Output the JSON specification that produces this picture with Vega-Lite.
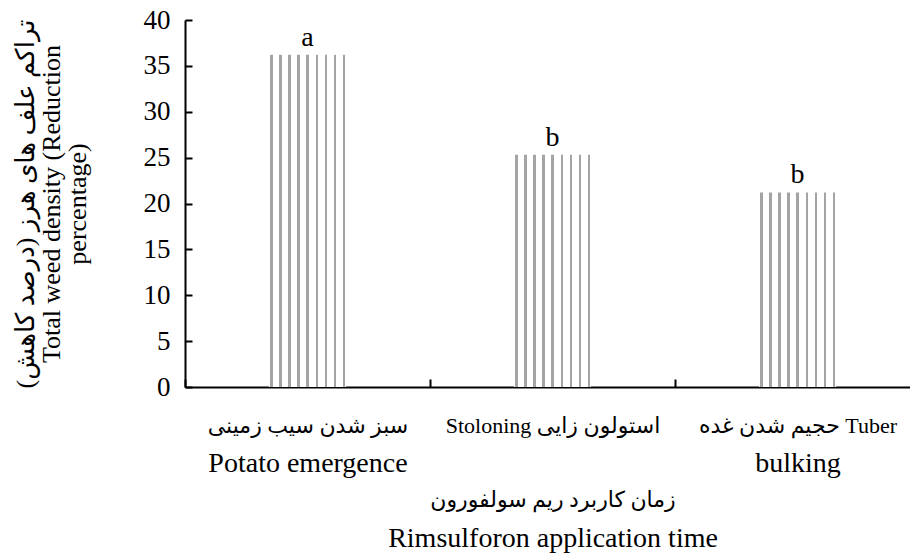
{
  "$schema": "https://vega.github.io/schema/vega-lite/v6.json",
  "autosize": "none",
  "width": 735,
  "height": 367,
  "padding": {"left": 185, "top": 20, "right": 0, "bottom": 167},
  "background": "white",
  "config": {
    "view": {"stroke": null},
    "font": "Liberation Serif, DejaVu Sans",
    "axis": {
      "grid": false,
      "domainColor": "black",
      "domainWidth": 2,
      "tickColor": "black",
      "tickWidth": 2,
      "labelColor": "black",
      "titleColor": "black",
      "labelFont": "Liberation Serif, DejaVu Sans",
      "titleFont": "Liberation Serif, DejaVu Sans",
      "titleFontWeight": "normal"
    }
  },
  "data": {
    "values": [
      {"stage": "سبز شدن سیب زمینی|Potato emergence", "value": 36.2, "letter": "a"},
      {"stage": "Stoloning استولون زایی|", "value": 25.3, "letter": "b"},
      {"stage": "حجیم شدن غده  Tuber|bulking", "value": 21.2, "letter": "b"}
    ]
  },
  "encoding": {
    "y": {
      "field": "value",
      "type": "quantitative",
      "scale": {"domain": [0, 40]},
      "axis": {
        "values": [0, 5, 10, 15, 20, 25, 30, 35, 40],
        "tickSize": -7,
        "labelPadding": 22,
        "labelFontSize": 27,
        "title": ["تراکم علف های هرز (درصد کاهش)\u200f", "Total weed density (Reduction", "percentage)"],
        "titleFontSize": 26,
        "titleLineHeight": 26,
        "titlePadding": 53
      }
    }
  },
  "layer": [
    {
      "mark": {
        "type": "bar",
        "width": {"band": 0.314},
        "fill": {
          "gradient": "linear",
          "x1": 0, "x2": 1, "y1": 0, "y2": 0,
          "stops": [
            {"offset": 0.0, "color": "#ffffff"},
            {"offset": 0.019, "color": "#ffffff"}, {"offset": 0.019, "color": "#a4a4a4"}, {"offset": 0.051, "color": "#a4a4a4"}, {"offset": 0.051, "color": "#ffffff"},
            {"offset": 0.136, "color": "#ffffff"}, {"offset": 0.136, "color": "#a4a4a4"}, {"offset": 0.168, "color": "#a4a4a4"}, {"offset": 0.168, "color": "#ffffff"},
            {"offset": 0.253, "color": "#ffffff"}, {"offset": 0.253, "color": "#a4a4a4"}, {"offset": 0.285, "color": "#a4a4a4"}, {"offset": 0.285, "color": "#ffffff"},
            {"offset": 0.370, "color": "#ffffff"}, {"offset": 0.370, "color": "#a4a4a4"}, {"offset": 0.402, "color": "#a4a4a4"}, {"offset": 0.402, "color": "#ffffff"},
            {"offset": 0.487, "color": "#ffffff"}, {"offset": 0.487, "color": "#a4a4a4"}, {"offset": 0.519, "color": "#a4a4a4"}, {"offset": 0.519, "color": "#ffffff"},
            {"offset": 0.604, "color": "#ffffff"}, {"offset": 0.604, "color": "#a4a4a4"}, {"offset": 0.636, "color": "#a4a4a4"}, {"offset": 0.636, "color": "#ffffff"},
            {"offset": 0.721, "color": "#ffffff"}, {"offset": 0.721, "color": "#a4a4a4"}, {"offset": 0.753, "color": "#a4a4a4"}, {"offset": 0.753, "color": "#ffffff"},
            {"offset": 0.838, "color": "#ffffff"}, {"offset": 0.838, "color": "#a4a4a4"}, {"offset": 0.870, "color": "#a4a4a4"}, {"offset": 0.870, "color": "#ffffff"},
            {"offset": 0.955, "color": "#ffffff"}, {"offset": 0.955, "color": "#a4a4a4"}, {"offset": 0.987, "color": "#a4a4a4"}, {"offset": 0.987, "color": "#ffffff"},
            {"offset": 1.0, "color": "#ffffff"}
          ]
        }
      },
      "encoding": {
        "x": {
          "field": "stage",
          "type": "nominal",
          "sort": null,
          "scale": {"paddingInner": 0, "paddingOuter": 0},
          "axis": {
            "orient": "bottom",
            "labelAngle": 0,
            "tickBand": "extent",
            "tickSize": -8,
            "labelPadding": 46,
            "labelFontSize": 22,
            "labelLimit": 0,
            "labelBaseline": "middle",
            "labelExpr": "datum.value ? split(datum.value, '|')[0] : ''",
            "title": "زمان کاربرد ریم سولفورون",
            "titleFontSize": 22,
            "titlePadding": 53
          }
        }
      }
    },
    {
      "mark": {"type": "text", "baseline": "bottom", "dy": -3, "fontSize": 28, "font": "Liberation Serif", "color": "black"},
      "encoding": {
        "x": {
          "field": "stage",
          "type": "nominal",
          "sort": null,
          "axis": {
            "orient": "bottom",
            "domain": false,
            "labelAngle": 0,
            "tickBand": "extent",
            "tickSize": -8,
            "tickOpacity": 0,
            "labelPadding": 84,
            "labelFontSize": 28,
            "labelLimit": 0,
            "labelBaseline": "middle",
            "labelExpr": "datum.value ? split(datum.value, '|')[1] : ''",
            "title": "Rimsulforon application time",
            "titleFontSize": 28,
            "titlePadding": 47
          }
        },
        "text": {"field": "letter"}
      }
    }
  ],
  "resolve": {"axis": {"x": "independent"}}
}
